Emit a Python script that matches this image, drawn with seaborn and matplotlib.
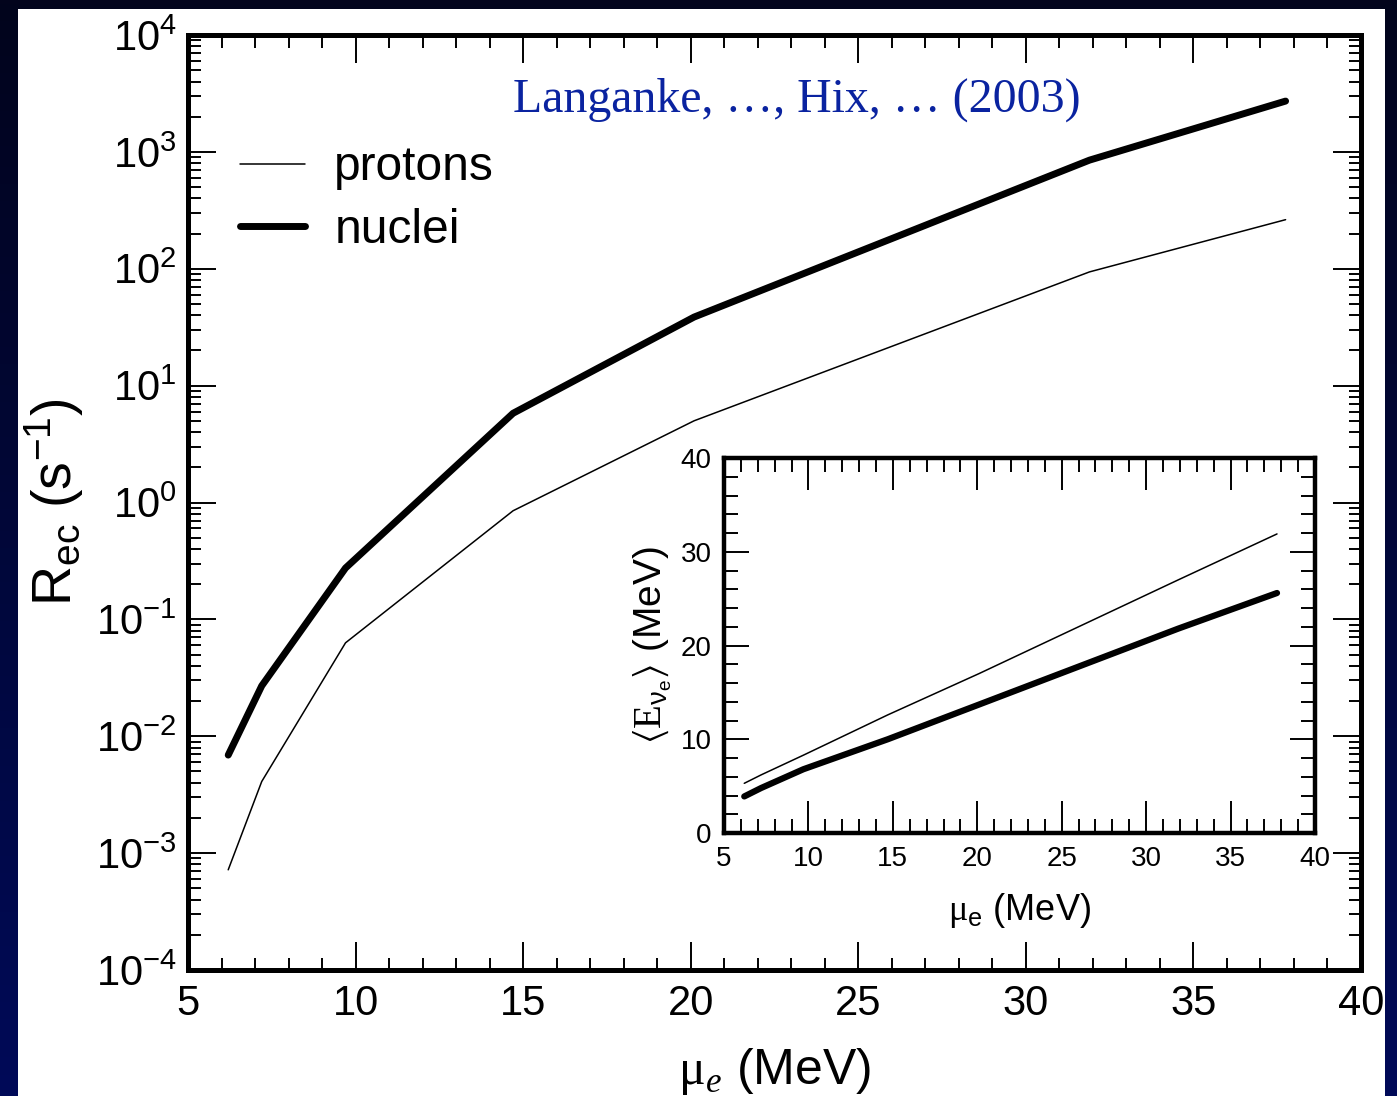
import numpy as np
import matplotlib
matplotlib.use("Agg")
import matplotlib.pyplot as plt
import seaborn as sns
from matplotlib.ticker import MultipleLocator, LogLocator, NullFormatter
from matplotlib.patches import Rectangle

# Electron chemical potential grid (MeV)
mu_e = [6.2, 7.2, 9.7, 14.7, 20.1, 31.9, 37.75]

# Electron-capture rates (s^-1)
rate_protons = [7.2e-4, 4.1e-3, 0.063, 0.85, 5.0, 94.0, 263.0]
rate_nuclei = [6.9e-3, 0.027, 0.275, 5.8, 38.6, 850.0, 2720.0]

# Mean emitted neutrino energy (MeV)
enu_protons = [5.3, 6.2, 8.3, 12.6, 17.0, 27.0, 31.9]
enu_nuclei = [3.9, 4.8, 6.8, 10.0, 13.7, 21.8, 25.6]

series_labels = ["protons", "nuclei"]
citation = "Langanke, \u2026, Hix, \u2026 (2003)"

W, H = 1397, 1096

sns.set_theme(style="ticks")
plt.rcParams["font.family"] = ["Liberation Sans", "DejaVu Sans"]
plt.rcParams["mathtext.fontset"] = "custom"
plt.rcParams["mathtext.rm"] = "Liberation Serif"
plt.rcParams["mathtext.it"] = "Liberation Serif:italic"
plt.rcParams["mathtext.bf"] = "Liberation Serif:bold"
plt.rcParams["mathtext.default"] = "regular"
plt.rcParams["text.color"] = "black"

fig = plt.figure(figsize=(W / 100, H / 100), dpi=100)

# dark navy backdrop with a white sheet on top
bg = fig.add_axes([0, 0, 1, 1], zorder=-10)
top = np.array([2, 4, 28]) / 255
bot = np.array([0, 10, 88]) / 255
t = np.linspace(0, 1, 256)[:, None, None]
grad = top * (1 - t) + bot * t
bg.imshow(grad, aspect="auto", extent=[0, 1, 0, 1], origin="upper")
bg.add_patch(Rectangle((18 / W, 0), (1385 - 18) / W, 1 - 9 / H,
                       facecolor="white", edgecolor="none"))
bg.set_xlim(0, 1)
bg.set_ylim(0, 1)
bg.axis("off")


def style_axes(ax, spine_w):
    ax.set_facecolor("white")
    for s in ax.spines.values():
        s.set_color("black")
        s.set_linewidth(spine_w)
        s.set_visible(True)


# ---- main panel: capture rates ----
ax = fig.add_axes([188 / W, 1 - 970 / H, (1361 - 188) / W, (970 - 35) / H])
style_axes(ax, 3.6)
sns.lineplot(x=mu_e, y=rate_protons, ax=ax, color="black", linewidth=1.1,
             label=series_labels[0], estimator=None, sort=False)
sns.lineplot(x=mu_e, y=rate_nuclei, ax=ax, color="black", linewidth=5.0,
             label=series_labels[1], estimator=None, sort=False)
ax.set_yscale("log")
ax.set_xlim(5, 40)
ax.set_ylim(1e-4, 1e4)
ax.xaxis.set_major_locator(MultipleLocator(5))
ax.xaxis.set_minor_locator(MultipleLocator(1))
ax.yaxis.set_major_locator(LogLocator(base=10, numticks=20))
ax.yaxis.set_minor_locator(LogLocator(base=10, subs=np.arange(2, 10), numticks=20))
ax.yaxis.set_minor_formatter(NullFormatter())
ax.tick_params(which="both", direction="in", top=True, right=True,
               color="black", width=1.4, labelsize=30, labelcolor="black")
ax.tick_params(which="major", length=20)
ax.tick_params(which="minor", length=9)
ax.tick_params(axis="x", pad=10)
ax.tick_params(axis="y", pad=8)
ax.set_xlabel(r"$\mathrm{\mu}_{\mathit{e}}$ (MeV)", fontsize=36, color="black",
              labelpad=16)
ax.set_ylabel(r"R$_\mathregular{ec}$ (s$^{\mathregular{-1}}$)", fontsize=40,
              color="black", labelpad=7)
ax.text(0.519, 0.9176, citation, transform=ax.transAxes, ha="center",
        va="baseline", fontsize=34.5, color="#0a23a0", family="Liberation Serif")
ax.legend(loc="upper left", bbox_to_anchor=(0.0443, 0.882), frameon=False,
          fontsize=34.5, handlelength=1.35, handletextpad=0.62, labelspacing=0.36,
          borderaxespad=0, borderpad=0, labelcolor="black")

# ---- inset: mean neutrino energy ----
ins = fig.add_axes([724 / W, 1 - 833 / H, (1315 - 724) / W, (833 - 458) / H])
style_axes(ins, 3.2)
sns.lineplot(x=mu_e, y=enu_protons, ax=ins, color="black", linewidth=1.1,
             estimator=None, sort=False)
sns.lineplot(x=mu_e, y=enu_nuclei, ax=ins, color="black", linewidth=4.5,
             estimator=None, sort=False)
ins.set_xlim(5, 40)
ins.set_ylim(0, 40)
ins.xaxis.set_major_locator(MultipleLocator(5))
ins.xaxis.set_minor_locator(MultipleLocator(1))
ins.yaxis.set_major_locator(MultipleLocator(10))
ins.yaxis.set_minor_locator(MultipleLocator(2))
ins.tick_params(which="both", direction="in", top=True, right=True,
                color="black", width=1.4, labelsize=20, labelcolor="black")
ins.tick_params(axis="x", which="major", length=23)
ins.tick_params(axis="y", which="major", length=18)
ins.tick_params(which="minor", length=10)
ins.tick_params(axis="both", pad=9)
ins.set_xlabel(r"$\mathrm{\mu}_{\mathregular{e}}$ (MeV)", fontsize=26,
               color="black", labelpad=14)
ins.set_ylabel(r"$\langle \mathrm{E}_{\nu_e} \rangle$ (MeV)", fontsize=28,
               color="black", labelpad=5)
if ins.get_legend() is not None:
    ins.get_legend().remove()

fig.savefig("out.png", dpi=100)
